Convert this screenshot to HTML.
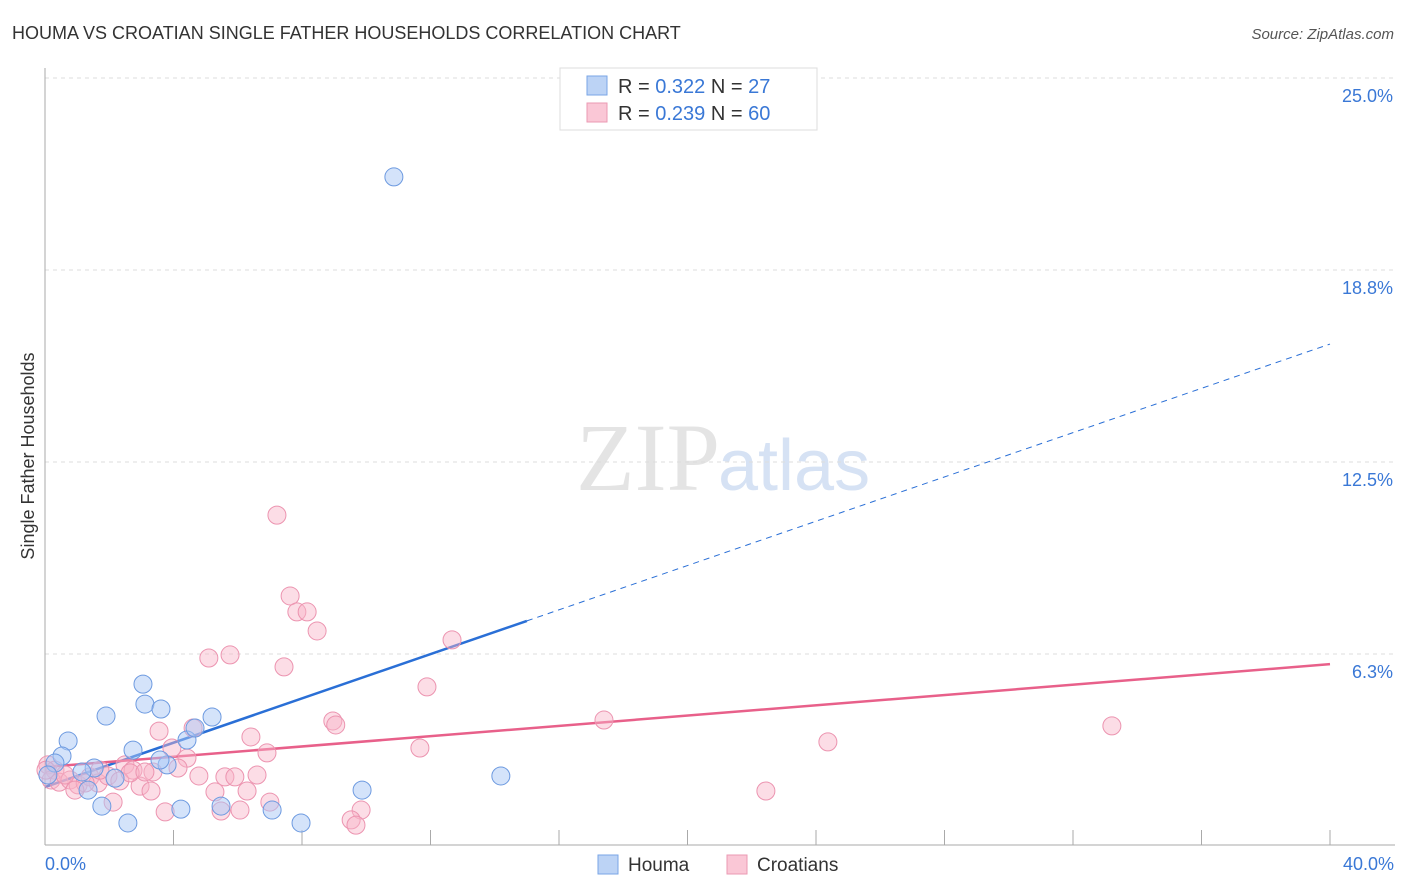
<!DOCTYPE html>
<html><head><meta charset="utf-8"><style>
body{margin:0;background:#fff;font-family:"Liberation Sans",sans-serif;}
svg{display:block}
</style></head><body>
<svg id="chart" width="1406" height="892" xmlns="http://www.w3.org/2000/svg">
<text x="12" y="39" font-size="18" fill="#333">HOUMA VS CROATIAN SINGLE FATHER HOUSEHOLDS CORRELATION CHART</text>
<text x="1394" y="39" font-size="15" fill="#555" font-style="italic" text-anchor="end">Source: ZipAtlas.com</text>
<text x="720" y="490" font-size="96" fill="#e4e4e4" text-anchor="end" font-family="Liberation Serif,serif">ZIP</text>
<text x="718" y="490" font-size="72" fill="#d6e2f4">atlas</text>
<g id="grid"></g>
<g id="axes"></g>
<g id="trends"></g>
<g id="points"></g>
<text transform="translate(34,456) rotate(-90)" font-size="18" fill="#333" text-anchor="middle">Single Father Households</text>
<g>
<rect x="560" y="68" width="257" height="62" fill="#fff" stroke="#ddd"/>
<rect x="587" y="76" width="20" height="19" fill="#bcd3f5" stroke="#7aa6e6"/>
<rect x="587" y="103" width="20" height="19" fill="#fac7d6" stroke="#eb9ab3"/>
<text x="618" y="93" font-size="20" fill="#333">R = <tspan fill="#3a78d6">0.322</tspan>   N =  <tspan fill="#3a78d6">27</tspan></text>
<text x="618" y="120" font-size="20" fill="#333">R = <tspan fill="#3a78d6">0.239</tspan>   N = <tspan fill="#3a78d6">60</tspan></text>
</g>
<g>
<rect x="598" y="855" width="20" height="19" fill="#bcd3f5" stroke="#7aa6e6"/>
<text x="628" y="871" font-size="19" fill="#333">Houma</text>
<rect x="727" y="855" width="20" height="19" fill="#fac7d6" stroke="#eb9ab3"/>
<text x="757" y="871" font-size="19" fill="#333">Croatians</text>
</g>
</svg>
<script>
const yTicks=[25.0,18.8,12.5,6.3];
const yTickLabels=["25.0%","18.8%","12.5%","6.3%"];
const xTickLabels=["0.0%","40.0%"];
const houmaX=[10.86,3.05,3.11,3.61,1.90,5.20,0.72,4.42,4.67,2.74,0.53,0.31,3.80,1.53,1.15,14.19,9.87,1.34,2.18,1.77,4.23,7.07,2.58,7.97,5.48,0.09,3.58];
const houmaY=[21.78,5.27,4.62,4.46,4.23,4.20,3.42,3.45,3.84,3.12,2.93,2.70,2.64,2.54,2.41,2.28,1.82,1.82,2.21,1.30,1.20,1.17,0.75,0.75,1.30,2.31,2.80];
const croX=[7.22,7.63,7.84,8.16,8.47,5.10,5.76,7.44,12.67,11.89,8.96,9.05,17.40,33.21,24.37,11.67,3.55,4.61,6.41,3.95,6.91,4.42,2.49,2.74,3.36,4.14,4.79,5.60,5.91,6.60,2.96,3.30,6.29,5.29,22.44,2.12,7.00,5.48,6.07,3.74,9.84,9.53,9.68,0.09,0.31,0.19,0.44,0.78,1.03,1.40,1.65,1.96,2.33,2.65,1.71,0.62,1.25,3.11,0.03,0.93];
const croY=[10.77,8.14,7.62,7.62,7.00,6.12,6.22,5.83,6.71,5.18,4.07,3.94,4.10,3.91,3.39,3.19,3.74,3.84,3.55,3.19,3.03,2.86,2.64,2.47,2.41,2.54,2.28,2.25,2.25,2.31,1.95,1.79,1.79,1.76,1.79,1.43,1.43,1.14,1.17,1.11,1.17,0.85,0.68,2.64,2.47,2.15,2.08,2.15,1.99,2.25,2.05,2.28,2.12,2.38,2.47,2.31,2.05,2.41,2.47,1.82];
const houmaTrend=[1.92,16.34]; // y at x=0 and x=40
const houmaSolidEnd=15.0;
const croTrend=[2.57,5.92];

const NS="http://www.w3.org/2000/svg";
const X0=45,X1=1330,Y0=846,YPER=192/6.25;
const sx=v=>X0+(X1-X0)*v/40;
const sy=v=>Y0-v*YPER;
function mk(tag,attrs,parent){const e=document.createElementNS(NS,tag);for(const k in attrs)e.setAttribute(k,attrs[k]);parent.appendChild(e);return e;}
const grid=document.getElementById('grid'),axes=document.getElementById('axes'),trends=document.getElementById('trends'),pts=document.getElementById('points'),svg=document.getElementById('chart');
const gridVals=[25,18.75,12.5,6.25];
gridVals.forEach((v,i)=>{
  const l=mk('line',{x1:X0,x2:1395,y1:sy(v),y2:sy(v),stroke:'#ddd','stroke-dasharray':'4,4'},grid);
  
  
  const t=mk('text',{x:1393,y:sy(v)+24,'font-size':18,fill:'#3a78d6','text-anchor':'end'},grid);
  t.textContent=yTickLabels[i];
  
  
});
let a=mk('line',{x1:X0,x2:X0,y1:68,y2:845,stroke:'#aaa'},axes);


a=mk('line',{x1:X0,x2:1395,y1:845,y2:845,stroke:'#aaa'},axes);


for(let i=1;i<=10;i++){
  const t=mk('line',{x1:sx(i*4),x2:sx(i*4),y1:830,y2:845,stroke:'#aaa'},axes);
  
  
}
[[0,'start',45],[40,'end',1394]].forEach((d,i)=>{
  const t=mk('text',{x:d[2],y:870,'font-size':18,fill:'#3a78d6','text-anchor':d[1]},axes);
  t.textContent=xTickLabels[i];
  
  
});
const hy=x=>houmaTrend[0]+(houmaTrend[1]-houmaTrend[0])*x/40;
let l=mk('line',{x1:sx(0),y1:sy(hy(0)),x2:sx(houmaSolidEnd),y2:sy(hy(houmaSolidEnd)),stroke:'#2a6fd6','stroke-width':2.5},trends);


l=mk('line',{x1:sx(houmaSolidEnd),y1:sy(hy(houmaSolidEnd)),x2:sx(40),y2:sy(hy(40)),stroke:'#2a6fd6','stroke-width':1,'stroke-dasharray':'6,5'},trends);


l=mk('line',{x1:sx(0),y1:sy(croTrend[0]),x2:sx(40),y2:sy(croTrend[1]),stroke:'#e8608a','stroke-width':2.5},trends);


croX.forEach((x,i)=>{
  const c=mk('circle',{cx:sx(x),cy:sy(croY[i]),r:9,fill:'rgba(248,180,200,0.45)',stroke:'#ec94b0','stroke-width':1},pts);
  
  
});
houmaX.forEach((x,i)=>{
  const c=mk('circle',{cx:sx(x),cy:sy(houmaY[i]),r:9,fill:'rgba(170,200,245,0.5)',stroke:'#6d9ae0','stroke-width':1},pts);
  
  
});
</script>
</body></html>
